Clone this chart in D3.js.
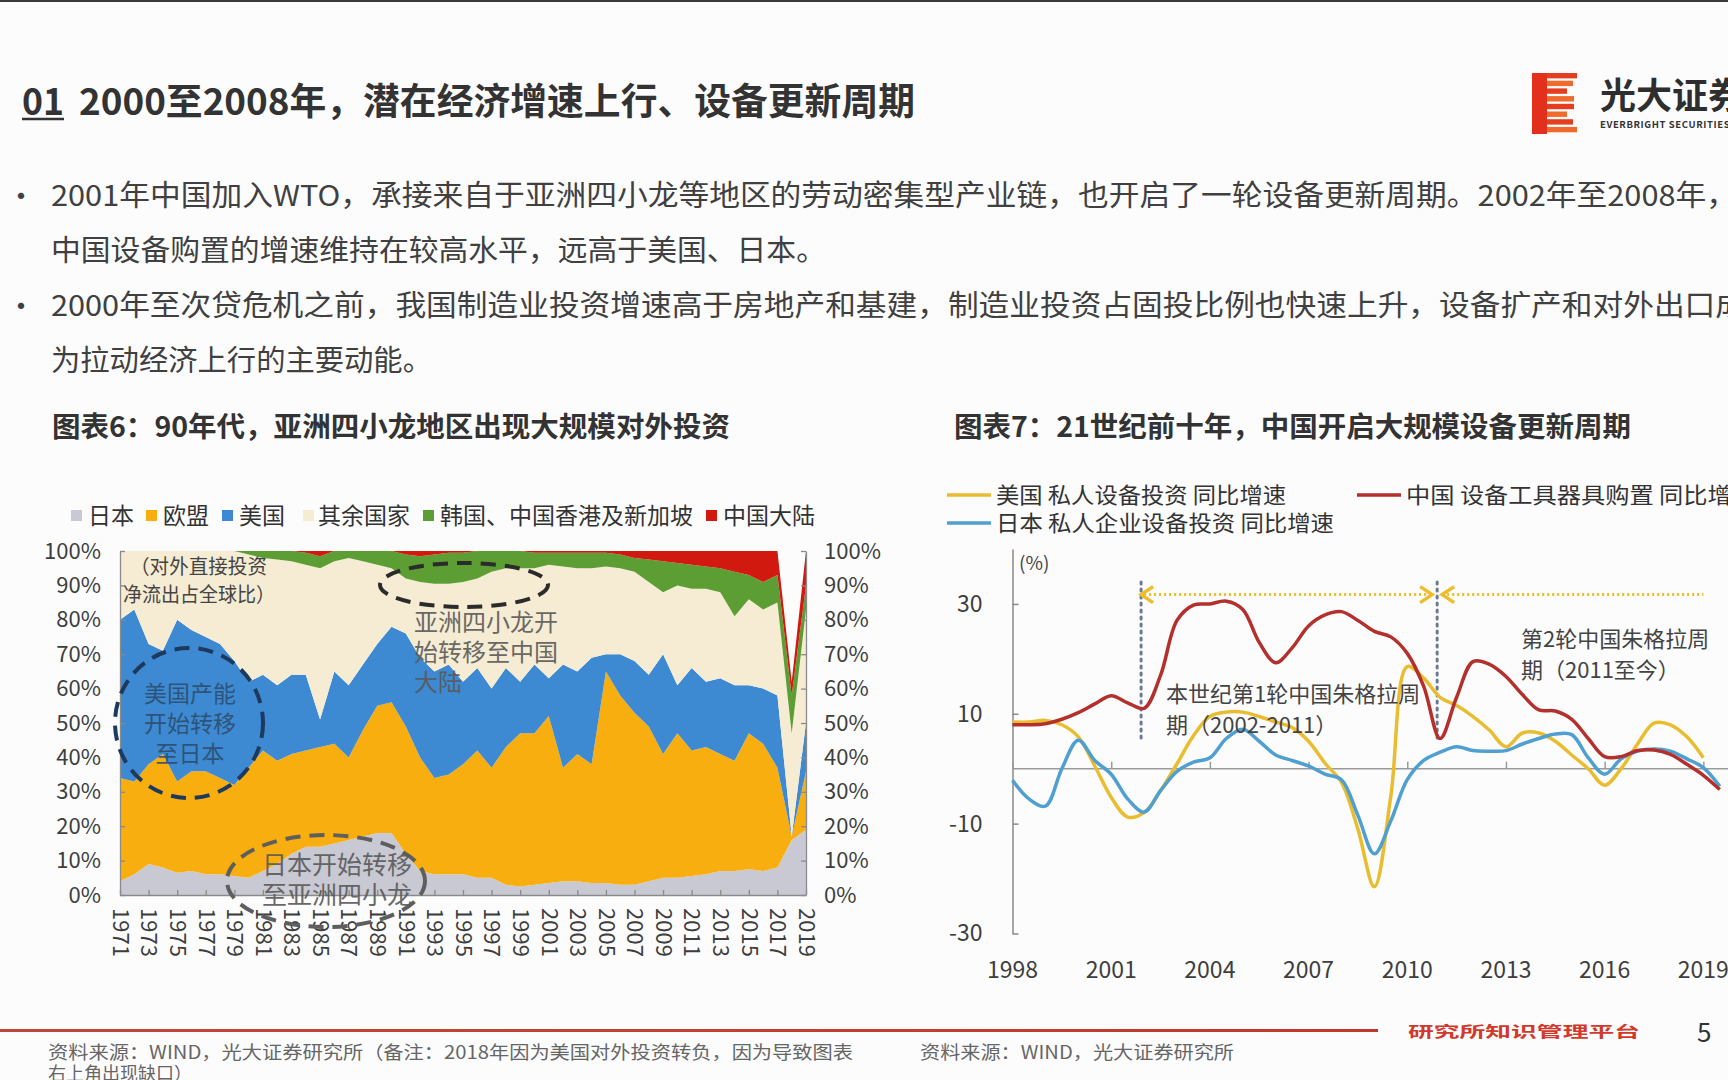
<!DOCTYPE html>
<html><head><meta charset="utf-8">
<script src="https://cdn.jsdelivr.net/npm/d3@7"></script>
<style>
html,body{margin:0;padding:0;background:#fcfcfd;overflow:hidden}
svg{display:block;font-family:"Noto Sans CJK SC","Noto Sans",sans-serif}
</style></head><body>
<svg id="c" width="1728" height="1080"></svg>
<script>
// ---------------- DATA ----------------
// Chart 6: share of global net outward FDI (%), stacked
const fdiYears = [1971,1972,1973,1974,1975,1976,1977,1978,1979,1980,1981,1982,1983,1984,1985,1986,1987,1988,1989,1990,1991,1992,1993,1994,1995,1996,1997,1998,1999,2000,2001,2002,2003,2004,2005,2006,2007,2008,2009,2010,2011,2012,2013,2014,2015,2016,2017,2018,2019];
const fdiJapan  = [4,6,9,8,6.5,7,6,6,5.5,5,7,9,12,14,14,15,16,17,18,18,12,7,6,6,6,5,5,3,2.5,3,3.5,4,4,3.5,3.5,3,3,4,5,5,5.5,6,7,7,7.5,7,8,16,19];
const fdiEU     = [30,27,29,33,26.5,29,30,28,26.5,32,35,30,29,28,29,29,24,31,37,38,37,33,28,29,32,37,32,40,44.5,44,48.5,33,37,34.5,61.5,55,50,45,36,42,36.5,37,34,32,39.5,37,29,1,17];
const fdiUS     = [46,50,35,30,47,41,39,39,36,25,22,22,23,22,8,21,21,19,18,22,27,29,31,32,24,24,23,23,15,20,11,30,24,31,5,12,15,15,29,14,24,19,22,22,14,16,21,0,14];
const fdiOthers = [20,17,27,29,20,23,25,27,32,37,34,36.5,33,32,44,32,37,30,23,17,16,22,25.5,23.5,29,26,34,29,33,28,33,28.5,30,26,25.5,25,26,27,18,29,23,27,25,20,25,23,27,30,33];
const fdiNICs   = [0,0,0,0,0,0,0,0,0,1,2,2.5,3,3.5,3.5,3,2,3,4,5,7,7.5,8.5,9,8.5,8,6,5,5,4.5,3.5,4,4.5,4.5,4,4,4,6.5,9,6.5,7,6.5,7,13,7,8,8,11,7];
const fdiChina  = [0,0,0,0,0,0,0,0,0,0,0,0,0,0.5,1.5,0,0,0,0,0,1,1.5,1,0.5,0.5,0,0,0,0,0.5,0.5,0.5,0.5,0.5,0.5,1,2,2.5,3,3.5,4,4.5,5,6,7,9,7,4,10];
const fdiSeriesNames = ["日本","欧盟","美国","其余国家","韩国、中国香港及新加坡","中国大陆"];
const fdiColors = ["#c9c9d3","#f9ae0f","#3d8ad2","#f6ecd4","#5c9e34","#d2190f"];
const fdiYTicks = [0,10,20,30,40,50,60,70,80,90,100];
const fdiXTicks = [1971,1973,1975,1977,1979,1981,1983,1985,1987,1989,1991,1993,1995,1997,1999,2001,2003,2005,2007,2009,2011,2013,2015,2017,2019];

// Chart 7: equipment investment YoY (%), half-year points
const capexPeriods = [1998,1998.5,1999,1999.5,2000,2000.5,2001,2001.5,2002,2002.5,2003,2003.5,2004,2004.5,2005,2005.5,2006,2006.5,2007,2007.5,2008,2008.5,2009,2009.5,2010,2010.5,2011,2011.5,2012,2012.5,2013,2013.5,2014,2014.5,2015,2015.5,2016,2016.5,2017,2017.5,2018,2018.5,2019,2019.5];
const capexUS    = [8.5,8.5,8.8,8.0,5.8,0.5,-5.2,-8.8,-8.0,-4,0.9,6.0,9.5,10.3,10.3,9.5,8.5,7.5,5,1,-2.5,-11,-21.5,-5,18.6,16.5,13,11.5,9.5,7,4,6.5,6.5,5,2.5,0,-3,0,4.5,8.3,8.0,5.8,2.0,null];
const capexChina = [8,8,8.2,9,10.2,11.8,13.3,12,11,17,27,29.8,30,30.5,29,23,19.3,22,26,28,28.6,27,25,24,21,15,5.5,13,19.5,19,16.8,13.5,10.7,10.5,9,5.5,2.2,2.2,3.3,3.4,2.6,0.8,-1.2,-3.8];
const capexJapan = [-2.1,-5.5,-6.8,0,5.2,1.5,-1,-5.5,-7.9,-4,-0.5,1.2,2,5.5,7.2,5,2.5,1.5,0.5,-1,-2,-8.5,-15.5,-9.5,-2,1.5,3,4,3.3,3.2,3.3,4.5,5.5,6.3,6.2,2,-1,1.8,3.2,3.6,3.2,1.8,0.2,-3.2];
const capexNames = ["美国 私人设备投资 同比增速","中国 设备工具器具购置 同比增速","日本 私人企业设备投资 同比增速"];
const capexColors = ["#e9bd2f","#b3302d","#4f9fd0"];
const capexYTicks = [30,10,-10,-30];
const capexXTicks = [1998,2001,2004,2007,2010,2013,2016,2019];
const cycle1 = [2002,2011];
const cycle2 = [2011,2019];

// ---------------- DRAW ----------------
const svg = d3.select("#c");
const txt = (x,y,s,size,opt={})=>{
  const t = svg.append("text").attr("x",x).attr("y",y).attr("dy","0.35em")
    .attr("font-size",size).attr("fill",opt.fill||"#3a3a3a").text(s);
  if(opt.bold) t.attr("font-weight",700);
  if(opt.anchor) t.attr("text-anchor",opt.anchor);
  if(opt.len) t.attr("textLength",opt.len).attr("lengthAdjust","spacingAndGlyphs");
  if(opt.ls) t.attr("letter-spacing",opt.ls);
  return t;
};

svg.append("rect").attr("x",0).attr("y",0).attr("width",1728).attr("height",2).attr("fill","#3a3a3a");

// header
txt(22,102,"01",37,{bold:true,fill:"#333",len:42});
svg.append("line").attr("x1",22).attr("x2",64).attr("y1",119).attr("y2",119).attr("stroke","#333").attr("stroke-width",2.5);
txt(79,102,"2000至2008年，潜在经济增速上行、设备更新周期",37,{bold:true,fill:"#333",len:836});

// logo
const logo = svg.append("g");
logo.append("rect").attr("x",1532).attr("y",73).attr("width",15).attr("height",61).attr("fill","#e2301c");
const stripeW = [30,26,20,27,27,20,26,30];
stripeW.forEach((w,i)=>{
  logo.append("rect").attr("x",1547).attr("y",73+i*7.7).attr("width",w).attr("height",5.4)
    .attr("fill", i%2? "#ef6a2c":"#e43d20");
});
txt(1600,96,"光大证券",36,{bold:true,fill:"#2e2e2e"});
txt(1600,125,"EVERBRIGHT SECURITIES",9.5,{bold:true,fill:"#333",ls:0.6});

// bullets
const bulletFill = "#404040";
txt(6,196,"•",30,{fill:bulletFill});
txt(6,306,"•",30,{fill:bulletFill});
txt(51,196,"2001年中国加入WTO，承接来自于亚洲四小龙等地区的劳动密集型产业链，也开启了一轮设备更新周期。2002年至2008年，",29,{fill:bulletFill,len:1686});
txt(51,251,"中国设备购置的增速维持在较高水平，远高于美国、日本。",29,{fill:bulletFill,len:775});
txt(51,306,"2000年至次贷危机之前，我国制造业投资增速高于房地产和基建，制造业投资占固投比例也快速上升，设备扩产和对外出口成",29,{fill:bulletFill,len:1695});
txt(51,361,"为拉动经济上行的主要动能。",29,{fill:bulletFill,len:381});

// chart titles
txt(52,427,"图表6：90年代，亚洲四小龙地区出现大规模对外投资",28,{bold:true,fill:"#333",len:678});
txt(954,427,"图表7：21世纪前十年，中国开启大规模设备更新周期",28,{bold:true,fill:"#333",len:677});

// ---------- Chart 6 ----------
const legX = [[77,88],[152,163],[228,239],[309,318],[429,440],[712,723]];
fdiSeriesNames.forEach((n,i)=>{
  svg.append("rect").attr("x",legX[i][0]-6).attr("y",510).attr("width",11).attr("height",11).attr("fill",fdiColors[i]);
  txt(legX[i][1],516,n,23,{fill:"#333"});
});

const rows = fdiYears.map((y,i)=>({year:y,"日本":fdiJapan[i],"欧盟":fdiEU[i],"美国":fdiUS[i],"其余国家":fdiOthers[i],"韩国、中国香港及新加坡":fdiNICs[i],"中国大陆":fdiChina[i]}));
const stacked = d3.stack().keys(fdiSeriesNames)(rows);
const xL = d3.scalePoint().domain(fdiYears).range([120,806]);
const yL = d3.scaleLinear().domain([0,100]).range([895,551]);
const area = d3.area().x(d=>xL(d.data.year)).y0(d=>yL(d[0])).y1(d=>yL(d[1]));
svg.append("g").selectAll("path").data(stacked).join("path")
  .attr("d",area).attr("fill",(d,i)=>fdiColors[i]);

const axL = svg.append("g").attr("transform","translate(120,0)")
  .call(d3.axisLeft(yL).tickValues(fdiYTicks).tickSizeInner(-5).tickSizeOuter(0).tickPadding(19).tickFormat(d=>d+"%"));
const axR = svg.append("g").attr("transform","translate(806,0)")
  .call(d3.axisRight(yL).tickValues(fdiYTicks).tickSizeInner(-5).tickSizeOuter(0).tickPadding(18).tickFormat(d=>d+"%"));
const axB = svg.append("g").attr("transform","translate(0,895)")
  .call(d3.axisBottom(xL).tickValues(fdiXTicks).tickSizeInner(-5).tickSizeOuter(0));
[axL,axR,axB].forEach(a=>{
  a.selectAll("path,line").attr("stroke","#8a8a8a").attr("stroke-width",1.3);
  a.selectAll("text").attr("font-size",22).attr("fill","#3e3e3e").attr("font-family",'"Noto Sans CJK SC",sans-serif');
});
axB.selectAll("text").attr("transform","rotate(90)").attr("x",13).attr("y",0).attr("dy","0.35em").style("text-anchor","start");

// chart 6 annotations
txt(130,567,"（对外直接投资",20,{fill:"#444",len:137});
txt(123,595,"净流出占全球比）",20,{fill:"#444",len:152});
svg.append("ellipse").attr("cx",189).attr("cy",723).attr("rx",74).attr("ry",75)
  .attr("fill","none").attr("stroke","#1d3a5e").attr("stroke-width",4).attr("stroke-dasharray","15,9");
["美国产能","开始转移","至日本"].forEach((s,i)=>txt(190,694+i*30,s,23,{fill:"#2c4a6b",anchor:"middle"}).attr("opacity",0.85));
svg.append("ellipse").attr("cx",464).attr("cy",585).attr("rx",84).attr("ry",22)
  .attr("fill","none").attr("stroke","#2b2b2b").attr("stroke-width",4).attr("stroke-dasharray","15,9");
["亚洲四小龙开","始转移至中国","大陆"].forEach((s,i)=>txt(414,623+i*30,s,24,{fill:"#5a5a5a"}).attr("opacity",0.9));
svg.append("ellipse").attr("cx",326).attr("cy",881).attr("rx",99).attr("ry",46)
  .attr("fill","none").attr("stroke","#5e5e5e").attr("stroke-width",4).attr("stroke-dasharray","15,9");
["日本开始转移","至亚洲四小龙"].forEach((s,i)=>txt(262,865+i*30,s,25,{fill:"#5a5a5a"}).attr("opacity",0.9));

// ---------- Chart 7 ----------
const xR = d3.scaleLinear().domain([1998,2019.75]).range([1012.5,1728]);
const yR = d3.scaleLinear().domain([-30,40]).range([933.5,549]);

[[0,495,947],[1,495,1357],[2,523,947]].forEach(([i,y,x])=>{
  svg.append("line").attr("x1",x).attr("x2",x+44).attr("y1",y).attr("y2",y).attr("stroke",capexColors[i]).attr("stroke-width",3.5);
  const t = txt(x+49,y,capexNames[i],22,{fill:"#333"});
  if(i===0) t.attr("textLength",290).attr("lengthAdjust","spacingAndGlyphs");
  if(i===1) t.attr("textLength",350).attr("lengthAdjust","spacingAndGlyphs");
  if(i===2) t.attr("textLength",338).attr("lengthAdjust","spacingAndGlyphs");
});

const axY = svg.append("g").attr("transform","translate(1012.5,0)")
  .call(d3.axisLeft(yR).tickValues(capexYTicks).tickSizeInner(-6).tickSizeOuter(0).tickPadding(30).tickFormat(d=>String(d)));
axY.selectAll("path,line").attr("stroke","#8a8a8a").attr("stroke-width",1.5);
axY.selectAll("text").attr("font-size",23).attr("fill","#3e3e3e").attr("font-family",'"Noto Sans CJK SC",sans-serif');
txt(1019,563,"(%)",19,{fill:"#444"});

const axX = svg.append("g").attr("transform",`translate(0,${yR(0)})`)
  .call(d3.axisBottom(xR).tickValues(capexXTicks).tickSizeInner(-7).tickSizeOuter(0).tickFormat(""));
axX.select("path").attr("d",`M${xR(1998)},0H1728`);
axX.selectAll("path,line").attr("stroke","#9a9a9a").attr("stroke-width",1.5);
capexXTicks.forEach(y=>txt(xR(y),970,String(y),23,{fill:"#3e3e3e",anchor:"middle"}));

// cycle markers
[cycle1[0],cycle1[1]].forEach(yr=>{
  svg.append("line").attr("x1",xR(yr)-3).attr("x2",xR(yr)-3).attr("y1",yR(34)).attr("y2",yR(5))
    .attr("stroke","#6b7a92").attr("stroke-width",3).attr("stroke-dasharray","2,5").attr("stroke-linecap","round");
});
const arrowY = yR(31.7);
const arrowG = svg.append("g").attr("stroke","#eebd2a").attr("fill","none");
arrowG.append("line").attr("x1",xR(cycle1[0])).attr("x2",xR(cycle1[1])-10).attr("y1",arrowY).attr("y2",arrowY)
  .attr("stroke-width",3).attr("stroke-dasharray","2,3");
arrowG.append("line").attr("x1",xR(cycle2[0])+2).attr("x2",xR(cycle2[1])).attr("y1",arrowY).attr("y2",arrowY)
  .attr("stroke-width",3).attr("stroke-dasharray","2,3");
const chev = (x,dir)=>arrowG.append("path")
  .attr("d",`M${x+dir*12},${arrowY-8}L${x},${arrowY}L${x+dir*12},${arrowY+8}`).attr("stroke-width",3.5);
chev(xR(cycle1[0])-3,1); chev(xR(cycle1[1])-8,-1); chev(xR(cycle2[0])+2,1);

const line = d3.line().defined(d=>d.v!==null).x(d=>xR(d.t)).y(d=>yR(d.v)).curve(d3.curveCatmullRom.alpha(0.5));
const mk = arr=>capexPeriods.map((t,i)=>({t,v:arr[i]}));
svg.append("defs").append("clipPath").attr("id","clipR").append("rect").attr("x",1000).attr("y",540).attr("width",728).attr("height",400);
const lg = svg.append("g").attr("clip-path","url(#clipR)");
[[capexUS,0],[capexJapan,2],[capexChina,1]].forEach(([arr,i])=>{
  lg.append("path").attr("d",line(mk(arr))).attr("fill","none").attr("stroke",capexColors[i]).attr("stroke-width",3.5).attr("stroke-linejoin","round");
});

txt(1166,694,"本世纪第1轮中国朱格拉周",22,{fill:"#444"});
txt(1166,725,"期（2002-2011）",22,{fill:"#444"});
txt(1521,639,"第2轮中国朱格拉周",22,{fill:"#444"});
txt(1521,670,"期（2011至今）",22,{fill:"#444"});

// ---------- footer ----------
const grad = svg.select("defs").append("linearGradient").attr("id","fl");
grad.append("stop").attr("offset","0%").attr("stop-color","#c2463c");
grad.append("stop").attr("offset","100%").attr("stop-color","#c0392b");
svg.append("rect").attr("x",0).attr("y",1029).attr("width",1378).attr("height",3).attr("fill","url(#fl)");
txt(1408,1032,"研究所知识管理平台",15,{bold:true,fill:"#d2392c",len:232});
txt(1697,1033,"5",26,{fill:"#333"});
txt(48,1053,"资料来源：WIND，光大证券研究所（备注：2018年因为美国对外投资转负，因为导致图表",18,{fill:"#666",len:805});
txt(48,1074,"右上角出现缺口）",18,{fill:"#666"});
txt(920,1053,"资料来源：WIND，光大证券研究所",18,{fill:"#666",len:314});
</script>
</body></html>
